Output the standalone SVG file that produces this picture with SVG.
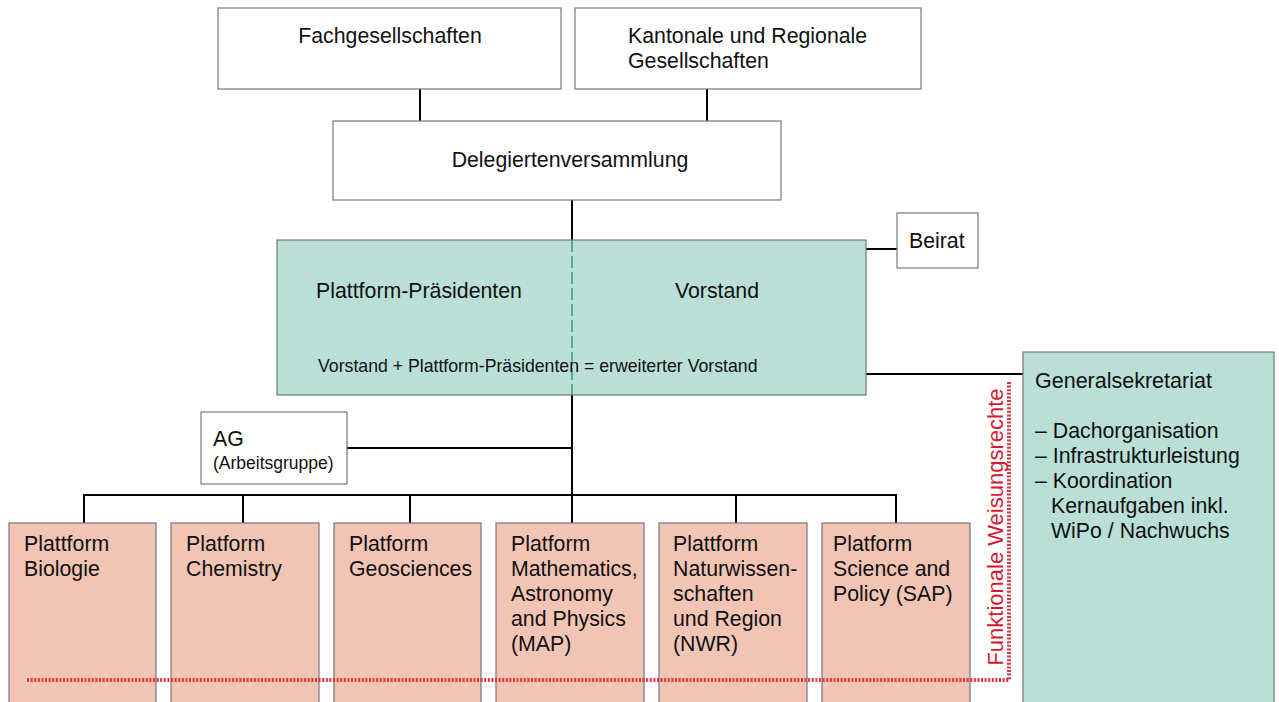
<svg xmlns="http://www.w3.org/2000/svg" width="1279" height="702" viewBox="0 0 1279 702">
<style>
text{font-family:"Liberation Sans",Arial,sans-serif;fill:#111;}
.w{fill:#fff;stroke:#777;stroke-width:1.2;}
.g{fill:#badfd6;stroke:#777;stroke-width:1.2;}
.p{fill:#f2c4b4;stroke:#777;stroke-width:1.2;}
.c{stroke:#000;stroke-width:2;fill:none;}
.t{font-size:21.3px;}
.s{font-size:17.7px;}
.r{stroke:#e0353c;stroke-width:4;stroke-dasharray:2 1.6;fill:none;}
</style>
<rect width="1279" height="702" fill="#fff"/>
<g id="connectors">
<line class="c" x1="420" y1="89" x2="420" y2="121"/>
<line class="c" x1="707" y1="89" x2="707" y2="121"/>
<line class="c" x1="572" y1="200" x2="572" y2="240"/>
<line class="c" x1="866" y1="249" x2="897" y2="249"/>
<line class="c" x1="866" y1="374" x2="1023" y2="374"/>
<line class="c" x1="572" y1="395" x2="572" y2="495"/>
<line class="c" x1="347" y1="448" x2="572" y2="448"/>
<line class="c" x1="83" y1="495" x2="897" y2="495"/>
<line class="c" x1="84" y1="495" x2="84" y2="523"/>
<line class="c" x1="243" y1="495" x2="243" y2="523"/>
<line class="c" x1="410" y1="495" x2="410" y2="523"/>
<line class="c" x1="572" y1="495" x2="572" y2="523"/>
<line class="c" x1="736" y1="495" x2="736" y2="523"/>
<line class="c" x1="896" y1="495" x2="896" y2="523"/>
</g>
<g id="fach"><rect class="w" x="218" y="8" width="343" height="81"/><text class="t" x="390" y="43" text-anchor="middle">Fachgesellschaften</text></g>
<g id="kantonal"><rect class="w" x="575" y="8" width="346" height="81"/><text class="t" x="628" y="43">Kantonale und Regionale</text><text class="t" x="628" y="68">Gesellschaften</text></g>
<g id="delegierte"><rect class="w" x="333" y="121" width="448" height="79"/><text class="t" x="570" y="167" text-anchor="middle">Delegiertenversammlung</text></g>
<g id="vorstand"><rect class="g" x="277" y="240" width="589" height="155"/>
<line x1="572" y1="240" x2="572" y2="395" stroke="#1a8a6e" stroke-width="1.2" stroke-dasharray="12 4"/>
<text class="t" x="316" y="298">Plattform-Präsidenten</text>
<text class="t" x="717" y="298" text-anchor="middle">Vorstand</text>
<text class="s" x="318" y="372">Vorstand + Plattform-Präsidenten = erweiterter Vorstand</text></g>
<g id="beirat"><rect class="w" x="897" y="213" width="81" height="55"/><text class="t" x="909" y="248">Beirat</text></g>
<g id="ag"><rect class="w" x="201" y="412" width="146" height="72"/><text class="t" x="213" y="446">AG</text><text x="213" y="469" font-size="17.5">(Arbeitsgruppe)</text></g>
<g id="generalsekretariat"><rect class="g" x="1023" y="352" width="251" height="360"/>
<text x="1035" y="388" font-size="21.5">Generalsekretariat</text>
<text class="t" x="1035" y="438">– Dachorganisation</text>
<text class="t" x="1035" y="463">– Infrastrukturleistung</text>
<text class="t" x="1035" y="488">– Koordination</text>
<text class="t" x="1051" y="513">Kernaufgaben inkl.</text>
<text class="t" x="1051" y="538">WiPo / Nachwuchs</text></g>
<g id="p1"><rect class="p" x="9" y="523" width="147" height="190"/><text class="t" x="24" y="551">Plattform</text><text class="t" x="24" y="576">Biologie</text></g>
<g id="p2"><rect class="p" x="171" y="523" width="148" height="190"/><text class="t" x="186" y="551">Platform</text><text class="t" x="186" y="576">Chemistry</text></g>
<g id="p3"><rect class="p" x="334" y="523" width="147" height="190"/><text class="t" x="349" y="551">Platform</text><text class="t" x="349" y="576">Geosciences</text></g>
<g id="p4"><rect class="p" x="496" y="523" width="148" height="190"/><text class="t" x="511" y="551">Platform</text><text class="t" x="511" y="576">Mathematics,</text><text class="t" x="511" y="601">Astronomy</text><text class="t" x="511" y="626">and Physics</text><text class="t" x="511" y="651">(MAP)</text></g>
<g id="p5"><rect class="p" x="659" y="523" width="148" height="190"/><text class="t" x="673" y="551">Plattform</text><text class="t" x="673" y="576">Naturwissen-</text><text class="t" x="673" y="601">schaften</text><text class="t" x="673" y="626">und Region</text><text class="t" x="673" y="651">(NWR)</text></g>
<g id="p6"><rect class="p" x="822" y="523" width="148" height="190"/><text class="t" x="833" y="551">Platform</text><text class="t" x="833" y="576">Science and</text><text class="t" x="833" y="601">Policy (SAP)</text></g>
<g id="weisungsrechte">
<path class="r" d="M27 680 H1009 V382"/>
<text x="0" y="0" font-size="22" transform="translate(1003 527) rotate(-90)" text-anchor="middle" style="fill:#d7192f">Funktionale Weisungsrechte</text>
</g>
</svg>
